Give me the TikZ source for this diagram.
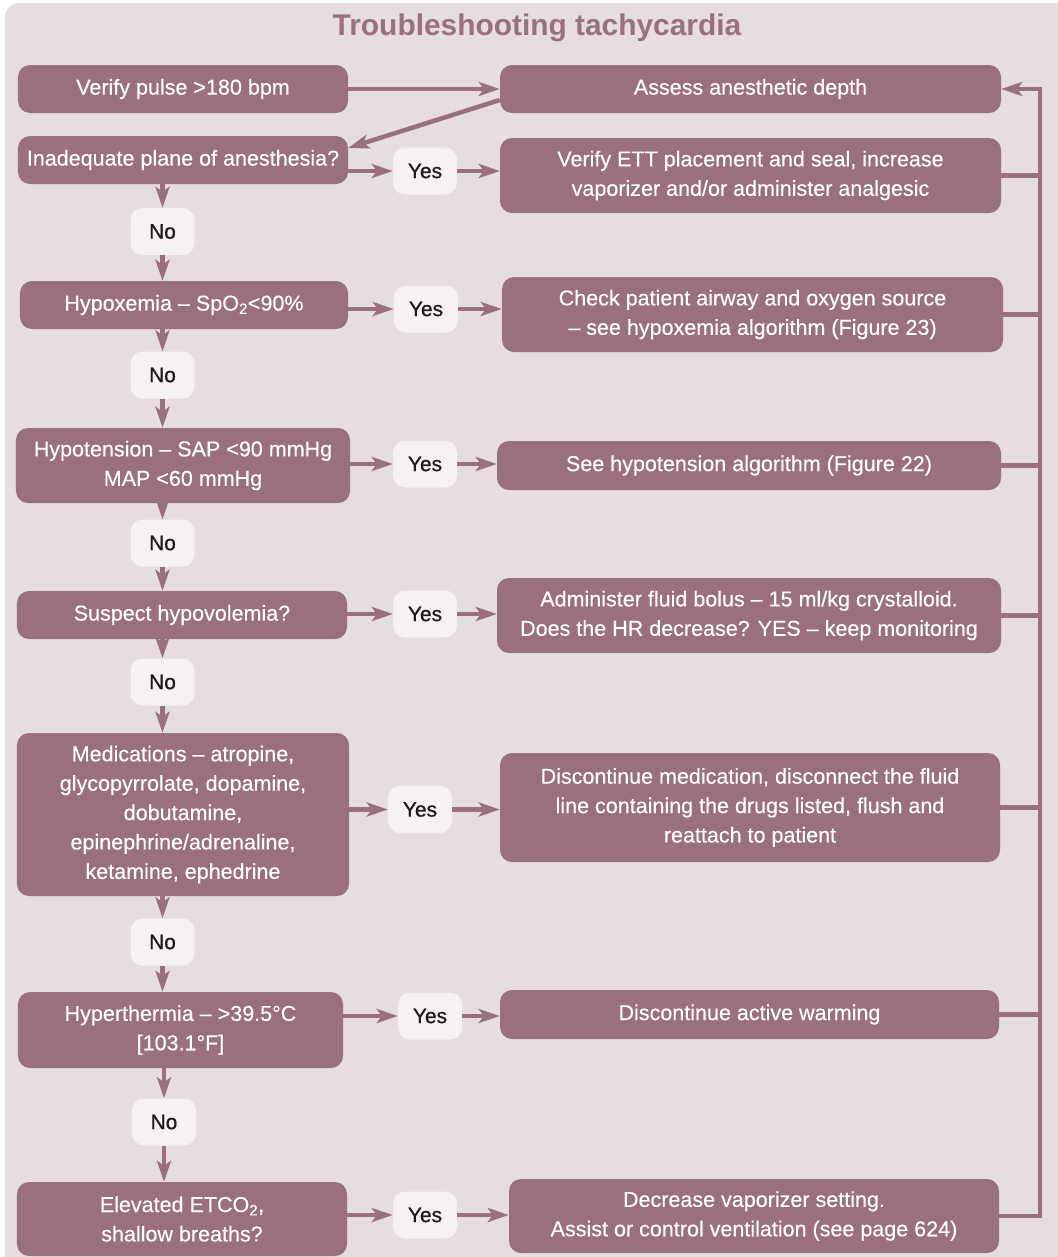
\documentclass[tikz,border=0pt]{standalone}
\usepackage{fontspec}
\setmainfont{Liberation Sans}
\newfontfamily\boxfont[FakeBold=0.25,Ligatures=TeX]{Liberation Sans}
\newfontfamily\pillfont[FakeBold=0.7,Ligatures=TeX]{Liberation Sans}
\usetikzlibrary{arrows.meta}
\definecolor{mauve}{RGB}{155,112,126}
\definecolor{panel}{RGB}{230,221,223}
\definecolor{pillc}{RGB}{246,242,243}
\definecolor{ink}{RGB}{30,26,28}
\begin{document}
\begin{tikzpicture}[x=1bp,y=-1bp,
  box/.style={fill=mauve, text=white, rounded corners=12bp, inner sep=0pt, align=center,
    font=\boxfont\fontsize{21.6}{29.5}\selectfont},
  pill/.style={fill=pillc, text=ink, rounded corners=12bp, minimum width=64bp, minimum height=47bp,
    inner sep=0pt, font=\pillfont\fontsize{21}{24}\selectfont},
  line/.style={draw=mauve, line width=4.5bp},
  arr/.style={line, -{Stealth[length=21bp,width=14bp,inset=5bp]}}]
\useasboundingbox (0,0) rectangle (1058,1257);
\fill[white] (0,0) rectangle (1058,1257);
\fill[panel, rounded corners=14bp] (5,3) rectangle (1080,1280);

\node[font=\bfseries\fontsize{30}{36}\selectfont, text=mauve] (T) at (537,28) {Troubleshooting tachycardia};

\node[box, minimum width=330bp, minimum height=48bp] (A) at (183,89) {Verify pulse >180 bpm};
\node[box, minimum width=501bp, minimum height=48bp] (B) at (750.5,89) {Assess anesthetic depth};
\node[box, minimum width=330bp, minimum height=48bp] (C) at (183,160) {Inadequate plane of anesthesia?};
\node[pill] (Y1) at (425,171) {Yes};
\node[box, minimum width=501bp, minimum height=75bp] (D) at (750.5,175.5) {Verify ETT placement and seal, increase\\vaporizer and/or administer analgesic};
\node[pill] (N1) at (162.5,231.5) {No};
\node[box, minimum width=328bp, minimum height=48bp] (E) at (184,305) {Hypoxemia – SpO\textsubscript{2}<90\%};
\node[pill] (Y2) at (426,309) {Yes};
\node[box, minimum width=501bp, minimum height=75bp] (F) at (752.5,314.5) {Check patient airway and oxygen source\\– see hypoxemia algorithm (Figure 23)};
\node[pill] (N2) at (162.5,375) {No};
\node[box, minimum width=334bp, minimum height=75bp] (G) at (183,465.5) {Hypotension – SAP <90 mmHg\\MAP <60 mmHg};
\node[pill] (Y3) at (425,464) {Yes};
\node[box, minimum width=504bp, minimum height=49bp] (H) at (749,465.5) {See hypotension algorithm (Figure 22)};
\node[pill] (N3) at (162.5,543) {No};
\node[box, minimum width=330bp, minimum height=48bp] (I) at (182,615) {Suspect hypovolemia?};
\node[pill] (Y4) at (425,614) {Yes};
\node[box, minimum width=504bp, minimum height=75bp] (J) at (749,615.5) {Administer fluid bolus – 15 ml/kg crystalloid.\\Does the HR decrease? YES – keep monitoring};
\node[pill] (N4) at (162.5,682) {No};
\node[box, minimum width=332bp, minimum height=163bp] (K) at (183,814.5) {Medications – atropine,\\glycopyrrolate, dopamine,\\dobutamine,\\epinephrine/adrenaline,\\ketamine, ephedrine};
\node[pill] (Y5) at (420,809.5) {Yes};
\node[box, minimum width=500bp, minimum height=109bp] (L) at (750,807.5) {Discontinue medication, disconnect the fluid\\line containing the drugs listed, flush and\\reattach to patient};
\node[pill] (N5) at (162.5,942) {No};
\node[box, minimum width=325bp, minimum height=76bp] (M) at (180.5,1030) {Hyperthermia – >39.5°C\\ {[}103.1°F{]}};
\node[pill] (Y6) at (430,1016) {Yes};
\node[box, minimum width=499bp, minimum height=49bp] (NN) at (749.5,1014.5) {Discontinue active warming};
\node[pill] (N6) at (164,1122) {No};
\node[box, minimum width=330bp, minimum height=74bp] (O) at (182,1219) {Elevated ETCO\textsubscript{2},\\shallow breaths?};
\node[pill] (Y7) at (425,1215) {Yes};
\node[box, minimum width=490bp, minimum height=74bp] (P) at (754,1216) {Decrease vaporizer setting.\\Assist or control ventilation (see page 624)};

% top connectors
\draw[arr] (A.east) -- (B.west);
\draw[arr] ([yshift=-11bp]B.west) -- ([yshift=12bp]C.east);

% yes connectors
\foreach \l/\y/\r in {C/Y1/D, E/Y2/F, G/Y3/H, I/Y4/J, K/Y5/L, M/Y6/NN, O/Y7/P}{
  \draw[arr] (\y.west -| \l.east) -- (\y.west);
  \draw[arr] (\y.east) -- (\y.east -| \r.west);
}

% no connectors
\foreach \u/\n/\d in {C/N1/E, E/N2/G, G/N3/I, I/N4/K, K/N5/M, M/N6/O}{
  \draw[arr] (\n.north |- \u.south) -- (\n.north);
  \draw[arr] (\n.south) -- (\n.south |- \d.north);
}

% feedback line
\coordinate (R) at (1040,89);
\draw[arr] (P.east) -| (R) -- (B.east);
\foreach \n in {D,F,H,J,L,NN}{
  \draw[line] (\n.east) -- (\n.east -| R);
}
\end{tikzpicture}
\end{document}
